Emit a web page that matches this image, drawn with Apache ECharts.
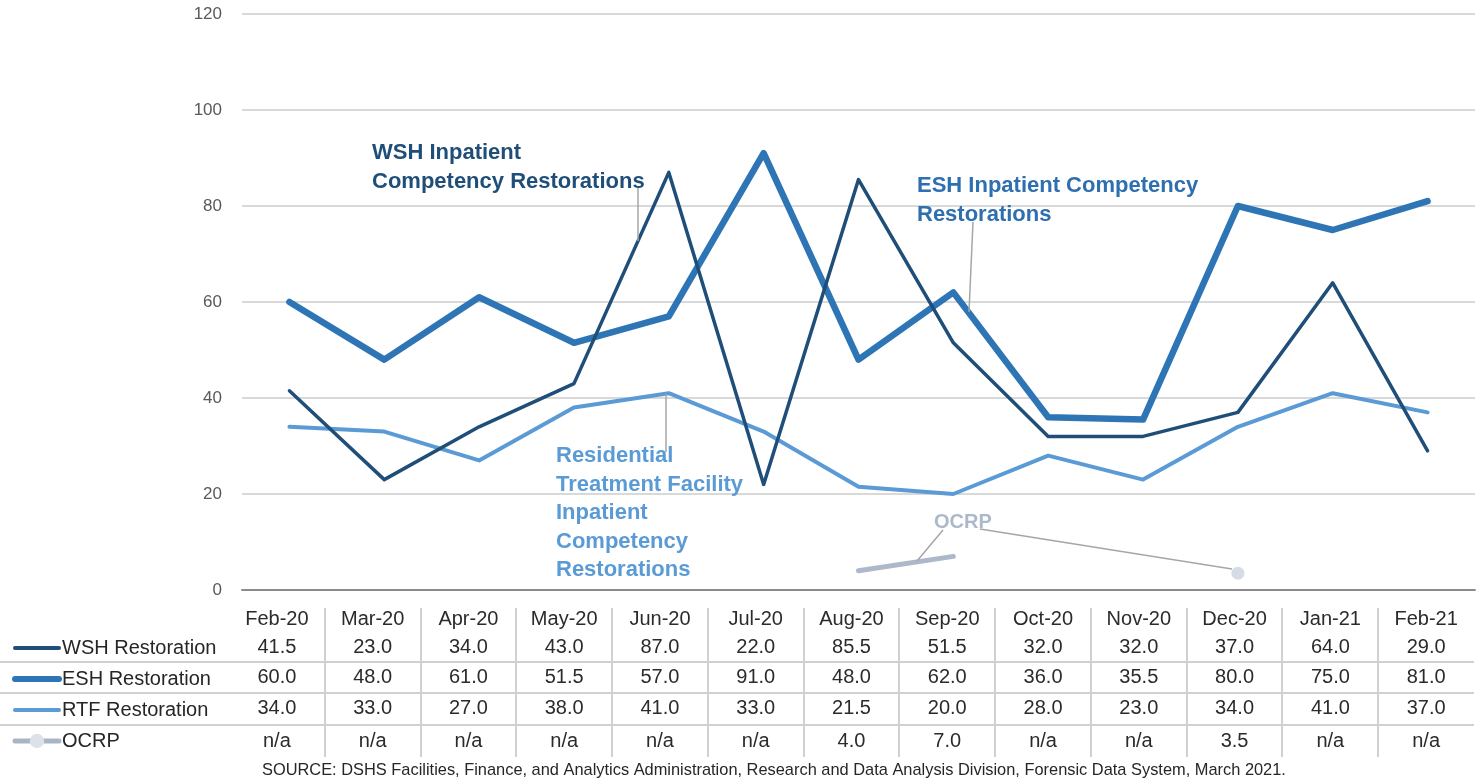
<!DOCTYPE html>
<html>
<head>
<meta charset="utf-8">
<script src="https://cdn.jsdelivr.net/npm/echarts@6/dist/echarts.min.js"></script>
<style>
html,body{margin:0;padding:0;background:#fff;}
#chart{width:1482px;height:779px;}
</style>
</head>
<body>
<div id="chart"></div>
<script>
const categories = ['Feb-20','Mar-20','Apr-20','May-20','Jun-20','Jul-20','Aug-20','Sep-20','Oct-20','Nov-20','Dec-20','Jan-21','Feb-21'];
const wshValues = [41.5, 23.0, 34.0, 43.0, 87.0, 22.0, 85.5, 51.5, 32.0, 32.0, 37.0, 64.0, 29.0];
const eshValues = [60.0, 48.0, 61.0, 51.5, 57.0, 91.0, 48.0, 62.0, 36.0, 35.5, 80.0, 75.0, 81.0];
const rtfValues = [34.0, 33.0, 27.0, 38.0, 41.0, 33.0, 21.5, 20.0, 28.0, 23.0, 34.0, 41.0, 37.0];
const ocrpValues = [null, null, null, null, null, null, 4.0, 7.0, null, null, 3.5, null, null];
const yTicks = [0, 20, 40, 60, 80, 100, 120];
const seriesNames = ['WSH Restoration', 'ESH Restoration', 'RTF Restoration', 'OCRP'];
const sourceText = 'SOURCE: DSHS Facilities, Finance, and Analytics Administration, Research and Data Analysis Division, Forensic Data System, March 2021.';

const C_WSH = '#1f4e79', C_ESH = '#2e75b6', C_RTF = '#5b9bd5', C_OCRP = '#adb9ca';
const FONT = '"Liberation Sans", Arial, sans-serif';
const fmt = v => (v === null || v === undefined) ? 'n/a' : v.toFixed(1);

const chart = echarts.init(document.getElementById('chart'), null, {renderer: 'canvas'});

function tableAxis(data, offset) {
  return {
    type: 'category', gridIndex: 1, position: 'top', offset: offset,
    data: data, boundaryGap: true,
    axisLine: {show: false}, axisTick: {show: false}, splitLine: {show: false},
    axisLabel: {show: true, interval: 0, margin: 0, verticalAlign: 'middle', align: 'center',
      color: '#2b2b2b', fontSize: 20, fontFamily: FONT}
  };
}

// OCRP data: line segment without markers, isolated point with marker
const ocrpData = ocrpValues.map((v, i) => {
  if (v === null) return null;
  const prev = i > 0 ? ocrpValues[i - 1] : null;
  const next = i < ocrpValues.length - 1 ? ocrpValues[i + 1] : null;
  const isolated = prev === null && next === null;
  return isolated ? {value: v} : {value: v, symbol: 'none'};
});

const option = {
  animation: false,
  backgroundColor: '#ffffff',
  textStyle: {fontFamily: FONT},
  title: {
    text: sourceText, left: 262, top: 762, padding: 0,
    textStyle: {fontSize: 16.4, fontWeight: 'normal', color: '#262626', fontFamily: FONT}
  },
  legend: {
    orient: 'vertical', left: 12, top: 638, padding: 0,
    itemWidth: 44, itemHeight: 18, itemGap: 11,
    textStyle: {fontSize: 20, color: '#262626', fontFamily: FONT, padding: [0, 0, 0, -2]},
    selectedMode: false,
    data: [
      {name: seriesNames[0], lineStyle: {color: C_WSH, width: 4}, itemStyle: {opacity: 0}},
      {name: seriesNames[1], lineStyle: {color: C_ESH, width: 6}, itemStyle: {opacity: 0}},
      {name: seriesNames[2], lineStyle: {color: C_RTF, width: 4}, itemStyle: {opacity: 0}},
      {name: seriesNames[3], lineStyle: {color: '#a9b4c6', width: 5}, itemStyle: {color: '#dde2ea'}}
    ]
  },
  grid: [
    {left: 242, right: 7, top: 14, bottom: 189, outerBoundsMode: 'none'},
    {left: 229, right: 8, top: 605, height: 152, outerBoundsMode: 'none'}
  ],
  xAxis: [
    {type: 'category', gridIndex: 0, data: categories, boundaryGap: true,
      axisLine: {show: true, lineStyle: {color: '#8c8c8c', width: 2}},
      axisTick: {show: false}, axisLabel: {show: false}, splitLine: {show: false}},
    tableAxis(categories, -14),
    tableAxis(wshValues.map(fmt), -42),
    tableAxis(eshValues.map(fmt), -72),
    tableAxis(rtfValues.map(fmt), -103),
    tableAxis(ocrpValues.map(fmt), -136)
  ],
  yAxis: [
    {type: 'value', gridIndex: 0, min: yTicks[0], max: yTicks[yTicks.length - 1], interval: 20,
      axisLine: {show: false}, axisTick: {show: false},
      axisLabel: {margin: 20, color: '#595959', fontSize: 17, fontFamily: FONT},
      splitLine: {show: true, lineStyle: {color: '#d9d9d9', width: 2}}},
    {type: 'value', gridIndex: 1, show: false}
  ],
  series: [
    {name: seriesNames[0], type: 'line', xAxisIndex: 0, yAxisIndex: 0, data: wshValues,
      symbol: 'none', color: C_WSH, lineStyle: {color: C_WSH, width: 3.5, cap: 'round', join: 'round'}, z: 4},
    {name: seriesNames[1], type: 'line', xAxisIndex: 0, yAxisIndex: 0, data: eshValues,
      symbol: 'none', color: C_ESH, lineStyle: {color: C_ESH, width: 6.5, cap: 'round', join: 'round'}, z: 3},
    {name: seriesNames[2], type: 'line', xAxisIndex: 0, yAxisIndex: 0, data: rtfValues,
      symbol: 'none', color: C_RTF, lineStyle: {color: C_RTF, width: 4, cap: 'round', join: 'round'}, z: 2},
    {name: seriesNames[3], type: 'line', xAxisIndex: 0, yAxisIndex: 0, data: ocrpData,
      connectNulls: false, symbol: 'circle', symbolSize: 13, showSymbol: true, showAllSymbol: true,
      color: '#d6dce5', itemStyle: {color: '#d6dce5', borderWidth: 0},
      lineStyle: {color: C_OCRP, width: 5, cap: 'round'}, z: 5}
  ]
};

chart.setOption(option);

// Table rules and annotations
function buildGraphics() {
  const centers = categories.map(c => chart.convertToPixel({xAxisIndex: 1}, c));
  const g = [];
  const ruleStyle = {stroke: '#d0d0d0', lineWidth: 2};
  for (let i = 1; i < centers.length; i++) {
    const x = Math.round((centers[i - 1] + centers[i]) / 2);
    g.push({type: 'line', shape: {x1: x, y1: 608, x2: x, y2: 757}, style: ruleStyle, silent: true});
  }
  const last = centers[centers.length - 1] + (centers[1] - centers[0]) / 2;
  [662, 693, 725].forEach(y => {
    g.push({type: 'line', shape: {x1: 0, y1: y, x2: last, y2: y}, style: ruleStyle, silent: true});
  });

  const leader = {stroke: '#a6a6a6', lineWidth: 1.5};
  const annot = (text, x, y, color, lh, size) => ({
    type: 'text', x: x, y: y, silent: true, z: 20,
    style: {text: text, fill: color, font: 'bold ' + (size || 22) + 'px ' + FONT, lineHeight: lh || 29, textVerticalAlign: 'top'}
  });
  g.push(annot('WSH Inpatient\nCompetency Restorations', 372, 138, '#1f4e79'));
  g.push({type: 'line', shape: {x1: 638, y1: 188, x2: 638, y2: 241}, style: leader, silent: true, z: 10});
  g.push(annot('ESH Inpatient Competency\nRestorations', 917, 171, '#2e6faf'));
  g.push({type: 'line', shape: {x1: 973, y1: 222, x2: 969, y2: 312}, style: leader, silent: true, z: 10});
  g.push(annot('Residential\nTreatment Facility\nInpatient\nCompetency\nRestorations', 556, 442, '#5b9bd5', 28.5));
  g.push({type: 'line', shape: {x1: 666, y1: 394, x2: 666, y2: 452}, style: leader, silent: true, z: 10});
  g.push(annot('OCRP', 934, 511, '#adb9ca', 22, 20));
  g.push({type: 'line', shape: {x1: 943, y1: 530, x2: 917, y2: 561}, style: leader, silent: true, z: 10});
  g.push({type: 'line', shape: {x1: 980, y1: 529, x2: 1232, y2: 569}, style: leader, silent: true, z: 10});
  chart.setOption({graphic: g});
}
buildGraphics();
</script>
</body>
</html>
